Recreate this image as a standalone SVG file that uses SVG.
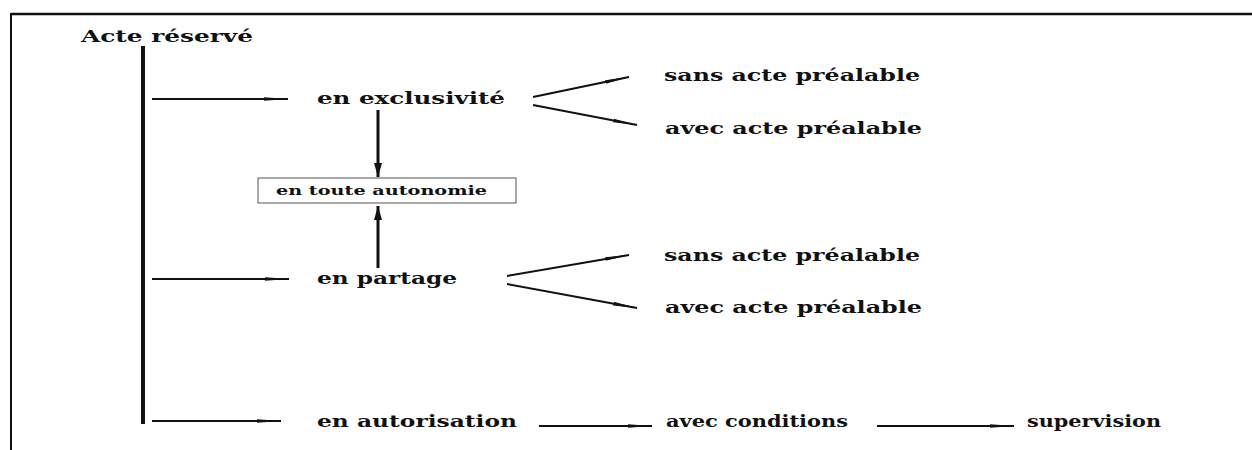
<svg xmlns="http://www.w3.org/2000/svg" width="1252" height="450" viewBox="0 0 1252 450">
<style>
text{font-family:"DejaVu Serif","Liberation Serif",serif;font-weight:bold;fill:#111;}
.t{font-size:17.5px;}
.s{font-size:12.5px;}
.c{stroke:#111;stroke-width:2;fill:none;marker-end:url(#ah);}
.v{stroke:#111;stroke-width:3;fill:none;marker-end:url(#av);}
</style>
<defs>
<marker id="ah" viewBox="0 0 24 6" refX="24" refY="3" markerWidth="24" markerHeight="6" markerUnits="userSpaceOnUse" orient="auto"><path d="M0,1.2 L24,3 L0,4.8 Z" fill="#111"/></marker>
<marker id="av" viewBox="0 0 14 8" refX="14" refY="4" markerWidth="14" markerHeight="8" markerUnits="userSpaceOnUse" orient="auto"><path d="M0,0 L14,4 L0,8 Z" fill="#111"/></marker>
</defs>
<rect width="1252" height="450" fill="#fff"/>
<g id="frame">
<line x1="11" y1="14" x2="1252" y2="14" stroke="#111" stroke-width="2.5"/>
<line x1="11" y1="13" x2="11" y2="450" stroke="#111" stroke-width="2"/>
</g>
<g id="connectors">
<line x1="143" y1="46" x2="143" y2="424" stroke="#111" stroke-width="4"/>
<line class="c" x1="152" y1="99" x2="288" y2="99"/>
<line class="c" x1="152" y1="279" x2="289" y2="279"/>
<line class="c" x1="152" y1="421" x2="281" y2="421"/>
<line class="c" x1="533" y1="97" x2="629" y2="77"/>
<line class="c" x1="533" y1="105" x2="637" y2="125"/>
<line class="c" x1="507" y1="276" x2="629" y2="255"/>
<line class="c" x1="507" y1="284" x2="637" y2="308"/>
<line class="c" x1="539" y1="426" x2="652" y2="426"/>
<line class="c" x1="877" y1="426" x2="1014" y2="426"/>
<path class="v" d="M378,110 V177"/>
<path class="v" d="M378,268 V206"/>
</g>
<g id="acte"><text class="t" x="81" y="42" textLength="172" lengthAdjust="spacingAndGlyphs">Acte réservé</text></g>
<g id="exclusivite"><text class="t" x="317" y="104" textLength="188" lengthAdjust="spacingAndGlyphs">en exclusivité</text></g>
<g id="excl-sans"><text class="t" x="664" y="81" textLength="256" lengthAdjust="spacingAndGlyphs">sans acte préalable</text></g>
<g id="excl-avec"><text class="t" x="665" y="134" textLength="257" lengthAdjust="spacingAndGlyphs">avec acte préalable</text></g>
<g id="autonomie">
<rect x="258" y="178" width="258" height="25" fill="#fff" stroke="#555" stroke-width="1"/>
<text class="s" x="276" y="195" textLength="211" lengthAdjust="spacingAndGlyphs">en toute autonomie</text>
</g>
<g id="partage"><text class="t" x="317" y="284" textLength="140" lengthAdjust="spacingAndGlyphs">en partage</text></g>
<g id="part-sans"><text class="t" x="664" y="261" textLength="256" lengthAdjust="spacingAndGlyphs">sans acte préalable</text></g>
<g id="part-avec"><text class="t" x="665" y="313" textLength="257" lengthAdjust="spacingAndGlyphs">avec acte préalable</text></g>
<g id="autorisation"><text class="t" x="317" y="427" textLength="200" lengthAdjust="spacingAndGlyphs">en autorisation</text></g>
<g id="conditions"><text class="t" x="666" y="427" textLength="182" lengthAdjust="spacingAndGlyphs">avec conditions</text></g>
<g id="supervision"><text class="t" x="1027" y="427" textLength="134" lengthAdjust="spacingAndGlyphs">supervision</text></g>
</svg>
